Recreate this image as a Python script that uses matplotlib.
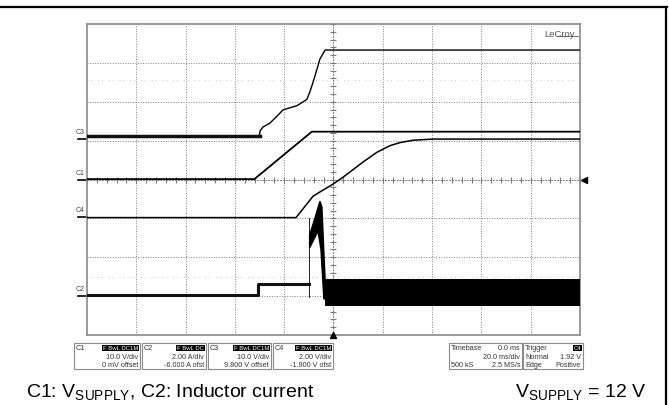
import numpy as np
import matplotlib
matplotlib.use("Agg")
import matplotlib.pyplot as plt
from matplotlib.patches import Rectangle, Polygon
from matplotlib.lines import Line2D

plt.rcParams['font.family'] = ['Liberation Sans', 'DejaVu Sans']
plt.rcParams['mathtext.fontset'] = 'custom'
plt.rcParams['mathtext.rm'] = 'Liberation Sans'
plt.rcParams['mathtext.it'] = 'Liberation Sans:italic'

W, H = 669, 406

############### Data (time in ms, level in screen divisions) ################
# C3: noisy flat part, then the rise
c3_noisy_t = [-100, -30]
c3_noisy_v = [5.13, 5.13]
c3_t = [-30, -29.8, -28.6, -25.8, -22.9, -20.5, -14.8, -10.8, -9.5, -8.3, -6.7, -5.5, -3.4, 100]
c3_v = [5.15, 5.25, 5.35, 5.45, 5.63, 5.79, 5.90, 6.06, 6.27, 6.50, 6.84, 7.10, 7.33, 7.33]

# C1: V supply ramp
c1_t = [-100, -32.1, -8.8, 100]
c1_v = [4.01, 4.01, 5.23, 5.23]

# C4
c4_t = [-100, -15.2, -8.3, -5.5, -0.2, 3.9, 12.0, 17.6, 22.9, 27.0, 32.3, 40.4, 100]
c4_v = [3.02, 3.02, 3.57, 3.68, 3.88, 4.06, 4.45, 4.70, 4.87, 4.95, 5.01, 5.04, 5.04]

# C2: inductor current
c2_t = [-100, -30.6, -30.6, -10.0]
c2_v = [1.04, 1.04, 1.31, 1.31]
c2_jump_t = [-10.0, -10.0]
c2_jump_v = [0.98, 3.01]
spike_t = [-9.7, -9.7, -7.9, -5.5, -4.7, -3.7, -3.0, -3.9, -5.1, -6.3]
spike_v = [2.24, 2.57, 2.93, 3.44, 3.29, 1.83, 0.93, 0.93, 2.21, 2.67]
band_t = [-3.4, 100]
band_lo = [0.75, 0.75]
band_hi = [1.44, 1.44]

ch_names = ['C3', 'C1', 'C4', 'C2']
ch_pos = [5.04, 4.0, 3.03, 1.0]

ch_boxes = [
    ('C1', 'F BwL DC1M', '10.0 V/div', '0 mV offset'),
    ('C2', 'F BwL DC', '2.00 A/div', '-6.000 A ofst'),
    ('C3', 'F BwL DC1M', '10.0 V/div', '9.800 V offset'),
    ('C4', 'F BwL DC1M', '2.00 V/div', '-1.900 V ofst'),
]
tb_rows = [('Timebase', '0.0 ms'), ('', '20.0 ms/div'), ('500 kS', '2.5 MS/s')]
trig_rows = [('Trigger', 'C4'), ('Normal', '1.92 V'), ('Edge', 'Positive')]


def fx(px):
    return px / W


def fy(py):
    return 1 - py / H


fig = plt.figure(figsize=(W / 100, H / 100), dpi=100)

# outer frame (top + right)
fig.add_artist(Line2D([0, fx(667)], [fy(8), fy(8)], color='k', lw=1.6))
fig.add_artist(Line2D([fx(666), fx(666)], [fy(8), 0], color='k', lw=1.6))

ax = fig.add_axes([fx(87), fy(336), (580 - 87) / W, (336 - 25) / H])
ax.set_xlim(-100, 100)
ax.set_ylim(0, 8)
ax.set_xticks([])
ax.set_yticks([])
for s in ax.spines.values():
    s.set_color('#8a8a8a')
    s.set_linewidth(1.2)

# graticule
gstyle = dict(color='#7e7e7e', lw=0.7, ls=(0, (1, 1.6)), zorder=1)
for i in range(1, 10):
    if i != 5:
        ax.axvline(-100 + 20 * i, **gstyle)
for j in range(1, 8):
    if j != 4:
        ax.axhline(j, **gstyle)
faint = dict(color='#c0c0c0', lw=0.7, ls=(0, (1, 3, 1, 6)), zorder=1)
ax.axhline(6.56, **faint)
ax.axhline(1.5, **faint)

# centre cross with small ticks
ax.axvline(0, color='#7a7a7a', lw=0.7, ls=(0, (2, 1)), zorder=1)
ax.axhline(4, color='#7a7a7a', lw=0.7, ls=(0, (2, 1)), zorder=1)
ax.plot(np.zeros(41), np.arange(0, 8.01, 0.2), ls='none', marker='_', ms=4,
        mew=0.8, color='#7a7a7a', zorder=1)
ax.plot(np.arange(-100, 100.1, 4), np.full(51, 4.0), ls='none', marker='|', ms=4,
        mew=0.8, color='#7a7a7a', zorder=1)

# traces
ax.plot(c3_noisy_t, c3_noisy_v, color='#111111', lw=2.5, zorder=3)
ax.plot(c3_t, c3_v, color='k', lw=1.0, zorder=3)
ax.plot(c1_t, c1_v, color='k', lw=1.3, zorder=3)
ax.plot(c4_t, c4_v, color='k', lw=1.1, zorder=3)
ax.plot(c2_t, c2_v, color='#111111', lw=2.2, zorder=3)
ax.plot(c2_jump_t, c2_jump_v, color='k', lw=0.6, zorder=3)
ax.add_patch(Polygon(list(zip(spike_t, spike_v)), closed=True, color='k', zorder=3))
ax.fill_between(band_t, band_lo, band_hi, color='k', lw=0, zorder=3)

# trigger markers
ax.plot(0, 0, marker='^', ms=4, color='k', clip_on=False, zorder=5)
ax.plot(101.5, 4, marker='<', ms=4, color='k', clip_on=False, zorder=5)

ax.text(0.99, 0.985, 'LeCroy', transform=ax.transAxes, ha='right', va='top',
        fontsize=6.8, color='#555555')
fig.add_artist(Line2D([fx(557), fx(578)], [fy(37), fy(37)], color='#555555', lw=0.6))

# channel labels and ground markers on the left
for name, pos in zip(ch_names, ch_pos):
    ax.text(-101.0, pos + 0.1, name, ha='right', va='bottom', fontsize=5,
            color='#444444', clip_on=False)
    ax.plot([-103.5, -100], [pos, pos], color='k', lw=1.2, clip_on=False)

# info boxes below the screen
box_x = [(74, 140), (142, 206), (208, 271), (273, 333)]
tiny = 5.2
for (x0, x1), (name, badge, r2, r3) in zip(box_x, ch_boxes):
    fig.add_artist(Rectangle((fx(x0), fy(370)), fx(x1 - x0), (370 - 344) / H,
                             fill=False, ec='#8a8a8a', lw=0.8))
    fig.text(fx(x0 + 2), fy(349), name, fontsize=tiny, va='center', color='#333333')
    fig.text(fx(x1 - 2), fy(349), badge, fontsize=4.3, va='center', ha='right',
             color='white', bbox=dict(boxstyle='square,pad=0.12', fc='k', ec='none'))
    fig.text(fx(x1 - 2), fy(357.5), r2, fontsize=tiny, va='center', ha='right', color='#333333')
    fig.text(fx(x1 - 2), fy(365.5), r3, fontsize=tiny, va='center', ha='right', color='#333333')

for (x0, x1), rows in zip([(449, 522), (523, 583)], [tb_rows, trig_rows]):
    fig.add_artist(Rectangle((fx(x0), fy(370)), fx(x1 - x0), (370 - 344) / H,
                             fill=False, ec='#8a8a8a', lw=0.8))
    for k, (left, right) in enumerate(rows):
        yy = fy(349 + 8.2 * k)
        fig.text(fx(x0 + 2), yy, left, fontsize=tiny, va='center', color='#333333')
        if rows is trig_rows and k == 0:
            fig.text(fx(x1 - 2), yy, right, fontsize=4.3, va='center', ha='right',
                     color='white', bbox=dict(boxstyle='square,pad=0.12', fc='k', ec='none'))
        else:
            fig.text(fx(x1 - 2), yy, right, fontsize=tiny, va='center', ha='right',
                     color='#333333')

# caption
fig.text(fx(26), fy(392), r'C1: $\mathrm{V_{SUPPLY}}$, C2: Inductor current',
         fontsize=14, va='center', ha='left')
fig.text(fx(647), fy(392), r'$\mathrm{V_{SUPPLY}}$ = 12 V',
         fontsize=14, va='center', ha='right')

fig.savefig('out.png', dpi=100)
